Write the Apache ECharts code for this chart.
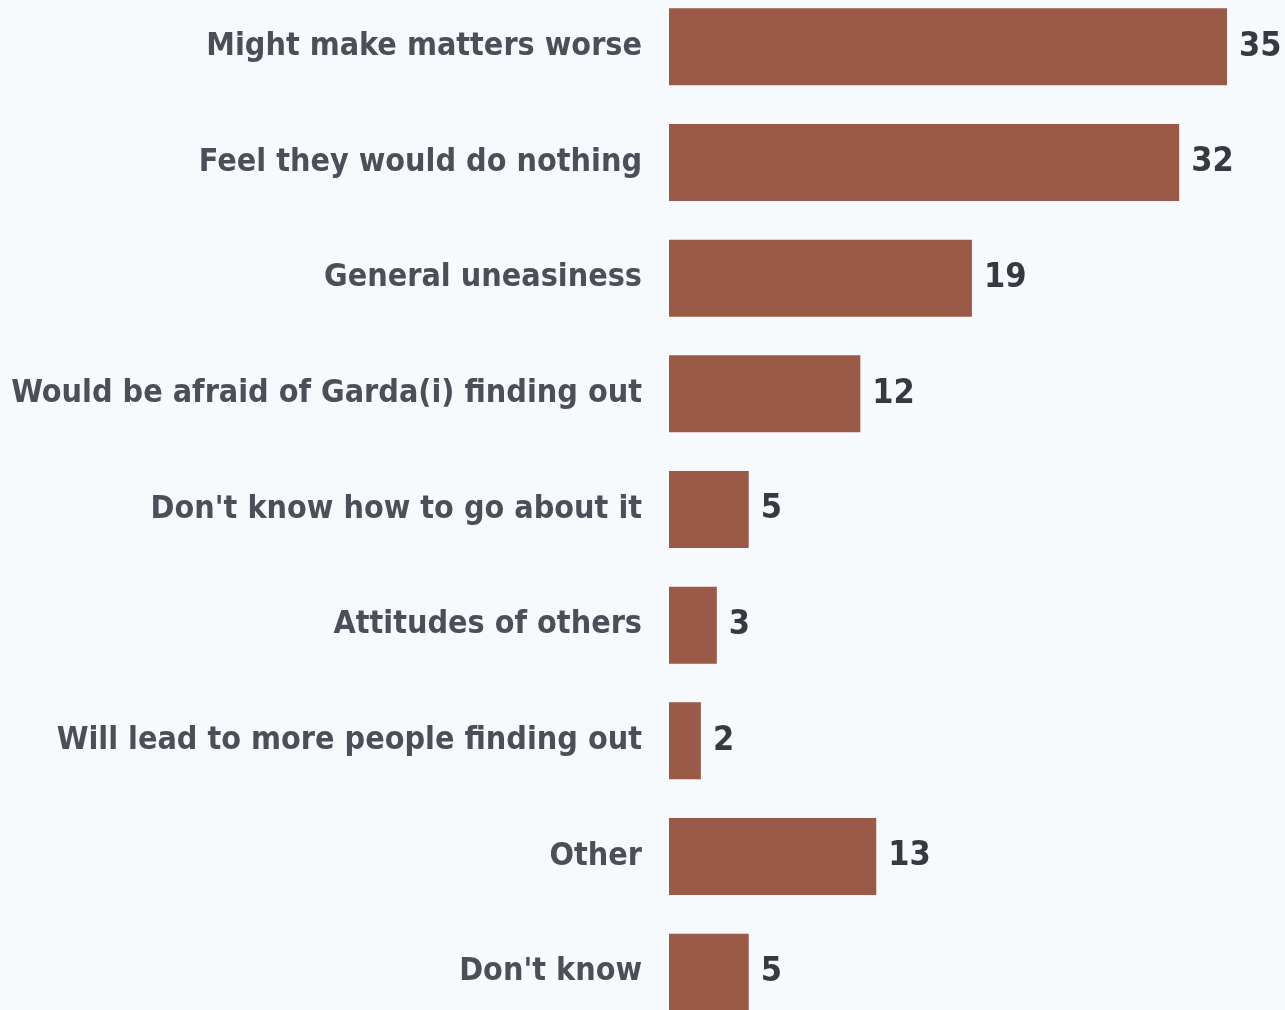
<!DOCTYPE html>
<html>
<head>
<meta charset="utf-8">
<style>
  html, body { margin: 0; padding: 0; background: #f6fafc; width: 1285px; height: 1010px; overflow: hidden; position: relative; }
  /* the plot runs slightly past the top and bottom edges of the page */
  #chart { position: absolute; left: 0; top: -11px; width: 1285px; height: 1041px; }
</style>
<script src="https://cdn.jsdelivr.net/npm/echarts@6/dist/echarts.min.js"></script>
</head>
<body>
<div id="chart"></div>
<script>
// Reasons for not reporting, share of respondents (%)
const categories = [
  'Might make matters worse',
  'Feel they would do nothing',
  'General uneasiness',
  'Would be afraid of Garda(i) finding out',
  "Don't know how to go about it",
  'Attitudes of others',
  'Will lead to more people finding out',
  'Other',
  "Don't know"
];
const values = [35, 32, 19, 12, 5, 3, 2, 13, 5];

const labelFont = "'DejaVu Sans Condensed', 'DejaVu Sans', sans-serif";

const chart = echarts.init(document.getElementById('chart'));
chart.setOption({
  backgroundColor: '#f6fafc',
  animation: false,
  grid: { left: 669, right: 58, top: 0, bottom: 0, containLabel: false },
  xAxis: {
    type: 'value',
    min: 0,
    max: 35,
    show: false
  },
  yAxis: {
    type: 'category',
    data: categories,
    inverse: true,
    axisLine: { show: false },
    axisTick: { show: false },
    splitLine: { show: false },
    axisLabel: {
      margin: 27,
      color: '#4b5058',
      fontFamily: labelFont,
      fontWeight: 'bold',
      fontSize: 32
    }
  },
  series: [{
    type: 'bar',
    data: values,
    barWidth: 77,
    itemStyle: { color: '#9b5947' },
    label: {
      show: true,
      position: 'right',
      distance: 12,
      color: '#353a41',
      fontFamily: labelFont,
      fontWeight: 'bold',
      fontSize: 34
    }
  }]
});
</script>
</body>
</html>
